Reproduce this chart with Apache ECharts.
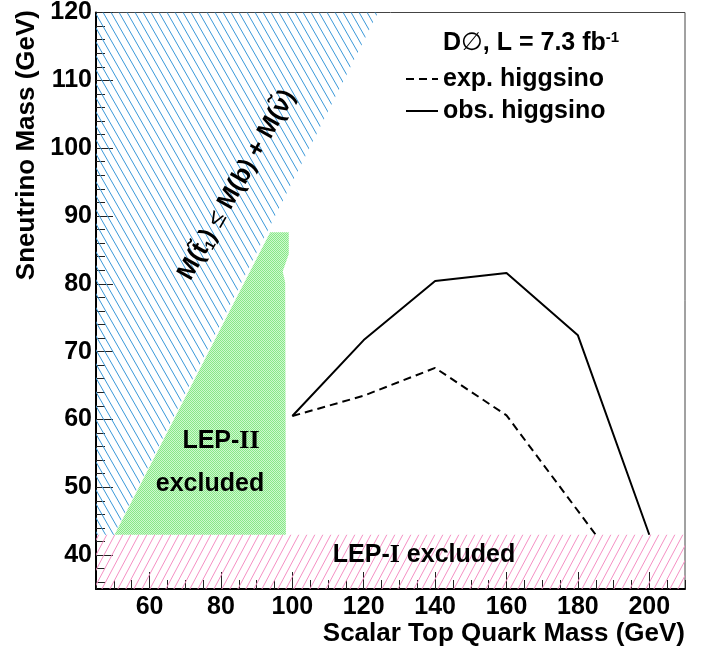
<!DOCTYPE html>
<html><head><meta charset="utf-8">
<script src="https://cdn.jsdelivr.net/npm/echarts@6/dist/echarts.min.js"></script>
<style>html,body{margin:0;padding:0;background:#fff}#c{width:714px;height:653px}</style>
</head><body><div id="c"></div><script>
// ---- axis ticks ----
const xMajorTicks = [60, 80, 100, 120, 140, 160, 180, 200];
const yMajorTicks = [40, 50, 60, 70, 80, 90, 100, 110, 120];
const yMinorTicks = [36, 38, 40, 42, 44, 46, 48, 50, 52, 54, 56, 58, 60, 62, 64, 66, 68, 70, 72, 74, 76, 78, 80, 82, 84, 86, 88, 90, 92, 94, 96, 98, 100, 102, 104, 106, 108, 110, 112, 114, 116, 118, 120];
// ---- limit curves ----
const expX = [100, 120, 140, 160, 185];
const expY = [60.5, 63.5, 67.6, 60.6, 43];
const obsX = [100, 120, 140, 160, 180, 200];
const obsY = [60.5, 71.7, 80.4, 81.6, 72.4, 43];
// ---- excluded regions ----
const kinX = [45, 50, 124, 45];
const kinY = [43, 43, 120, 120];
const lep2X = [50.2, 93.8, 99.0, 99.0, 97.3, 98.0, 98.2];
const lep2Y = [43, 87.6, 87.6, 84.4, 81.8, 80.2, 43];
const lep1X = [45, 210, 210, 45];
const lep1Y = [35, 35, 43, 43];

const FF = '"Liberation Sans", Arial, Helvetica, sans-serif';

function hatch(color, dir, lw, w, h) {
  const c = document.createElement('canvas');
  c.width = w; c.height = h;
  const g = c.getContext('2d');
  g.strokeStyle = color; g.lineWidth = lw;
  for (const off of [-w, 0, w]) {
    g.beginPath();
    if (dir > 0) { g.moveTo(off, 0); g.lineTo(off + w, h); }
    else { g.moveTo(off, h); g.lineTo(off + w, 0); }
    g.stroke();
  }
  return { image: c, repeat: 'repeat' };
}
function checker(a, b) {
  const c = document.createElement('canvas');
  c.width = 2; c.height = 2;
  const g = c.getContext('2d');
  g.fillStyle = b; g.fillRect(0, 0, 2, 2);
  g.fillStyle = a; g.fillRect(0, 0, 1, 1); g.fillRect(1, 1, 1, 1);
  return { image: c, repeat: 'repeat' };
}

function polySeries(name, xs, ys, fill, z) {
  return {
    type: 'custom', name: name, z: z, silent: true,
    data: xs.map((x, i) => [x, ys[i]]),
    encode: { x: 0, y: 1 },
    renderItem: function (params, api) {
      if (params.dataIndex !== 0) return null;
      const pts = xs.map((x, i) => api.coord([x, ys[i]]));
      return { type: 'polygon', shape: { points: pts }, style: { fill: fill, stroke: null } };
    }
  };
}

const chart = echarts.init(document.getElementById('c'), null, { renderer: 'canvas' });
const labelStyle = { fontSize: 25, fontWeight: 'bold', color: '#000', fontFamily: FF };

chart.setOption({
  animation: false,
  backgroundColor: '#fff',
  grid: { left: 96, right: 29, top: 9, bottom: 64, show: true, borderColor: '#444', borderWidth: 1, backgroundColor: 'transparent' },
  xAxis: [
    { type: 'value', min: 45, max: 210, interval: 5, position: 'bottom',
      axisLine: { show: true, onZero: false, lineStyle: { color: '#000', width: 2 } },
      axisTick: { show: true, inside: true, length: 9, lineStyle: { color: '#222', width: 1 } },
      axisLabel: Object.assign({ customValues: xMajorTicks, margin: 6 }, labelStyle),
      splitLine: { show: false } },
    { type: 'value', min: 45, max: 210, position: 'bottom', offset: 0,
      axisLine: { show: false },
      axisTick: { show: true, inside: true, length: 17, customValues: xMajorTicks, lineStyle: { color: '#222', width: 1 } },
      axisLabel: { show: false }, splitLine: { show: false } }
  ],
  yAxis: [
    { type: 'value', min: 35, max: 120, position: 'left',
      axisLine: { show: true, onZero: false, lineStyle: { color: '#000', width: 2 } },
      axisTick: { show: true, inside: true, length: 9, customValues: yMinorTicks, lineStyle: { color: '#222', width: 1 } },
      axisLabel: Object.assign({ customValues: yMajorTicks, margin: 4 }, labelStyle),
      splitLine: { show: false } },
    { type: 'value', min: 35, max: 120, position: 'left', offset: 0,
      axisLine: { show: false },
      axisTick: { show: true, inside: true, length: 17, customValues: yMajorTicks, lineStyle: { color: '#222', width: 1 } },
      axisLabel: { show: false }, splitLine: { show: false } }
  ],
  legend: {
    orient: 'vertical', left: 405, top: 66, padding: 0,
    itemWidth: 32, itemHeight: 14, itemGap: 6,
    itemStyle: { opacity: 0 },
    textStyle: { fontSize: 25, fontWeight: 'bold', color: '#000', fontFamily: FF, lineHeight: 26 },
    data: ['exp. higgsino', 'obs. higgsino']
  },
  series: [
    polySeries('LEP-II', lep2X, lep2Y, checker('#88e888', '#cff8cf'), 1),
    polySeries('kin', kinX, kinY, hatch('#3a98d8', 1, 1, 8, 14), 2),
    polySeries('LEP-I', lep1X, lep1Y, hatch('#f590c4', -1, 1, 8, 15), 3),
    { type: 'line', name: 'exp. higgsino', z: 5, symbol: 'none', data: expX.map((x, i) => [x, expY[i]]),
      lineStyle: { color: '#000', width: 2, type: [8, 5] }, itemStyle: { color: '#000' } },
    { type: 'line', name: 'obs. higgsino', z: 5, symbol: 'none', data: obsX.map((x, i) => [x, obsY[i]]),
      lineStyle: { color: '#000', width: 2 }, itemStyle: { color: '#000' } }
  ],
  graphic: [
    { type: 'text', x: 27, y: 10, rotation: Math.PI / 2, z: 10,
      style: { text: 'Sneutrino Mass (GeV)', align: 'right', verticalAlign: 'middle', fill: '#000', font: 'bold 26px ' + FF } },
    { type: 'text', x: 685, y: 634, z: 10,
      style: { text: 'Scalar Top Quark Mass (GeV)', align: 'right', verticalAlign: 'middle', fill: '#000', font: 'bold 26px ' + FF } },
    { type: 'text', x: 443, y: 43, z: 10,
      style: { text: '{a|D}{o|∅}{a|, L = 7.3 fb}{s|-1}', verticalAlign: 'middle', align: 'left',
        rich: { a: { fontSize: 25, fontWeight: 'bold', fontFamily: FF, fill: '#000', lineHeight: 26 },
                o: { fontSize: 25, fontWeight: 'normal', fontFamily: '"DejaVu Sans", sans-serif', fill: '#000', lineHeight: 26 },
                s: { fontSize: 15, fontWeight: 'bold', fontFamily: FF, fill: '#000', verticalAlign: 'top', lineHeight: 26 } } } },
    { type: 'text', x: 237, y: 185, rotation: 60.5 * Math.PI / 180, z: 10,
      style: { text: '{a|M(t\u0303}{s|1}{a|) }{n|≤}{a| M(b) + M(ν\u0303)}', align: 'center', verticalAlign: 'middle',
        rich: { a: { fontSize: 25, fontWeight: 'bold', fontFamily: FF, fill: '#000', lineHeight: 28 },
                n: { fontSize: 25, fontWeight: 'normal', fontFamily: FF, fill: '#000', lineHeight: 28 },
                s: { fontSize: 14, fontWeight: 'bold', fontFamily: FF, fill: '#000', verticalAlign: 'bottom', lineHeight: 28 } } } },
    { type: 'text', x: 221, y: 441, z: 10,
      style: { text: '{a|LEP-}{r|II}', align: 'center', verticalAlign: 'middle',
        rich: { a: { fontSize: 25, fontWeight: 'bold', fontFamily: FF, fill: '#000' },
                r: { fontSize: 26, fontWeight: 'bold', fontFamily: '"Liberation Serif", "Times New Roman", serif', fill: '#000' } } } },
    { type: 'text', x: 210, y: 484, z: 10,
      style: { text: 'excluded', align: 'center', verticalAlign: 'middle', fill: '#000', font: 'bold 25px ' + FF } },
    { type: 'text', x: 424, y: 555, z: 10,
      style: { text: '{a|LEP-}{r|I}{a| excluded}', align: 'center', verticalAlign: 'middle',
        rich: { a: { fontSize: 25, fontWeight: 'bold', fontFamily: FF, fill: '#000' },
                r: { fontSize: 26, fontWeight: 'bold', fontFamily: '"Liberation Serif", "Times New Roman", serif', fill: '#000' } } } }
  ]
});
</script></body></html>
